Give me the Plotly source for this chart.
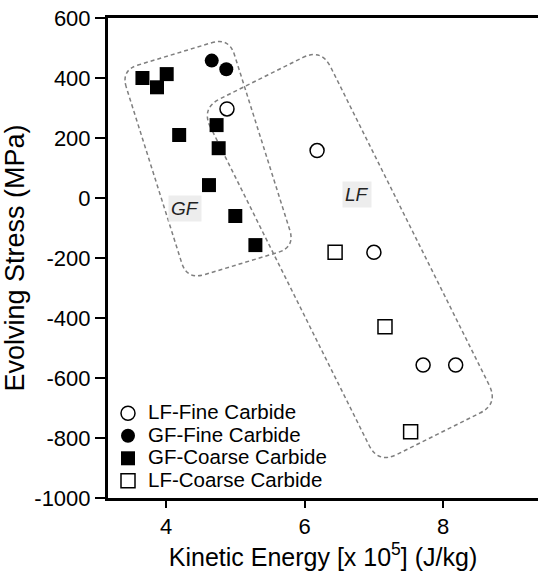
import plotly.graph_objects as go

# ---------------- data ----------------
lf_fine_x = [4.88, 6.18, 7.00, 7.71, 8.18]
lf_fine_y = [297, 158, -181, -557, -557]

gf_fine_x = [4.66, 4.87]
gf_fine_y = [458, 429]

gf_coarse_x = [3.66, 3.87, 4.01, 4.19, 4.73, 4.76, 4.62, 5.00, 5.29]
gf_coarse_y = [400, 369, 413, 210, 243, 166, 43, -60, -157]

lf_coarse_x = [6.44, 7.16, 7.53]
lf_coarse_y = [-181, -429, -779]

y_ticks = [600, 400, 200, 0, -200, -400, -600, -800, -1000]
y_ticktext = ["600", "400", "200", "0", "-200", "-400", "-600", "-800", "-1000"]
x_ticks = [4, 6, 8]
x_ticktext = ["4", "6", "8"]

legend_names = ["LF-Fine Carbide", "GF-Fine Carbide",
                "GF-Coarse Carbide", "LF-Coarse Carbide"]

# region boxes: three corners (top-left, top-right, bottom-left) in data units
gf_box = [(3.349, 426), (4.909, 535), (4.304, -273)]
lf_box = [(4.506, 299), (6.241, 499), (7.063, -886)]

# ---------------- geometry ----------------
W, H = 538, 571
ML, MR, MT, MB = 108, 0, 18, 73
X_RANGE = [3.163, 3.163 + (W - ML - MR) / 69.3]
Y_RANGE = [-1000, 600]
PW, PH = W - ML - MR, H - MT - MB
sx = PW / (X_RANGE[1] - X_RANGE[0])
sy = PH / (Y_RANGE[1] - Y_RANGE[0])


def to_px(x, y):
    return ML + (x - X_RANGE[0]) * sx, MT + (Y_RANGE[1] - y) * sy


def to_data(px, py):
    return X_RANGE[0] + (px - ML) / sx, Y_RANGE[1] - (py - MT) / sy


def rounded_path(corners3, r):
    tl, tr, bl = [to_px(*c) for c in corners3]
    br = (tr[0] + bl[0] - tl[0], tr[1] + bl[1] - tl[1])
    pts = [tl, tr, br, bl]
    n = len(pts)
    segs = []
    for i in range(n):
        p = pts[i]
        a = pts[i - 1]
        b = pts[(i + 1) % n]

        def toward(q):
            dx, dy = q[0] - p[0], q[1] - p[1]
            d = (dx * dx + dy * dy) ** 0.5
            return (p[0] + r * dx / d, p[1] + r * dy / d)

        segs.append((toward(a), p, toward(b)))
    fmt = lambda q: "%.5f,%.5f" % to_data(*q)
    path = "M " + fmt(segs[0][0])
    for s_in, c, s_out in segs:
        path += " L " + fmt(s_in) + " Q " + fmt(c) + " " + fmt(s_out)
    return path + " Z"


FONT = "Liberation Sans, Arial, Helvetica, sans-serif"
LEG_TXT = '<span style="font-size:20.5px">%s</span>'

fig = go.Figure()
fig.add_trace(go.Scatter(
    x=lf_fine_x, y=lf_fine_y, mode="markers", name=LEG_TXT % legend_names[0],
    marker=dict(symbol="circle", size=14, color="white",
                line=dict(color="black", width=1.5))))
fig.add_trace(go.Scatter(
    x=gf_fine_x, y=gf_fine_y, mode="markers", name=LEG_TXT % legend_names[1],
    marker=dict(symbol="circle", size=14, color="black",
                line=dict(color="black", width=0))))
fig.add_trace(go.Scatter(
    x=gf_coarse_x, y=gf_coarse_y, mode="markers", name=LEG_TXT % legend_names[2],
    marker=dict(symbol="square", size=14, color="black",
                line=dict(color="black", width=0))))
fig.add_trace(go.Scatter(
    x=lf_coarse_x, y=lf_coarse_y, mode="markers", name=LEG_TXT % legend_names[3],
    marker=dict(symbol="square", size=14, color="white",
                line=dict(color="black", width=1.5))))

for box, r in ((gf_box, 18), (lf_box, 21)):
    fig.add_shape(type="path", xref="x", yref="y", path=rounded_path(box, r),
                  line=dict(color="#7f7f7f", width=1.5, dash="4px,3px"),
                  fillcolor="rgba(0,0,0,0)", layer="below")

fig.add_annotation(x=4.274, y=-35, text="<i>GF</i>", showarrow=False,
                   font=dict(family=FONT, size=19, color="#222"),
                   bgcolor="#ededed", borderpad=2)
fig.add_annotation(x=6.752, y=12, text="<i>LF</i>", showarrow=False,
                   font=dict(family=FONT, size=19, color="#222"),
                   bgcolor="#ededed", borderpad=2)

fig.update_layout(
    width=W, height=H,
    margin=dict(l=ML, r=MR, t=MT, b=MB, pad=0),
    paper_bgcolor="white", plot_bgcolor="white",
    font=dict(family=FONT, color="black"),
    showlegend=True,
    legend=dict(x=0, y=0.002, xanchor="left", yanchor="bottom",
                bgcolor="rgba(0,0,0,0)", font=dict(size=15, family=FONT),
                tracegroupgap=0),
    xaxis=dict(range=X_RANGE, tickvals=x_ticks, ticktext=x_ticktext,
               ticks="outside", ticklen=7,
               tickwidth=2, tickcolor="black", showline=True, linewidth=3,
               linecolor="black", mirror=True, showgrid=False, zeroline=False,
               tickfont=dict(size=22, family=FONT),
               title=dict(text="Kinetic Energy [x 10<sup>5</sup>] (J/kg)",
                          font=dict(size=25, family=FONT), standoff=10)),
    yaxis=dict(range=Y_RANGE, tickvals=y_ticks, ticktext=y_ticktext,
               ticks="outside", ticklen=10,
               tickwidth=2, tickcolor="black", showline=True, linewidth=3,
               linecolor="black", showgrid=False, zeroline=False,
               tickfont=dict(size=22, family=FONT),
               title=dict(text="Evolving Stress (MPa)",
                          font=dict(size=27, family=FONT), standoff=2)),
)

fig.write_html("out.html")
